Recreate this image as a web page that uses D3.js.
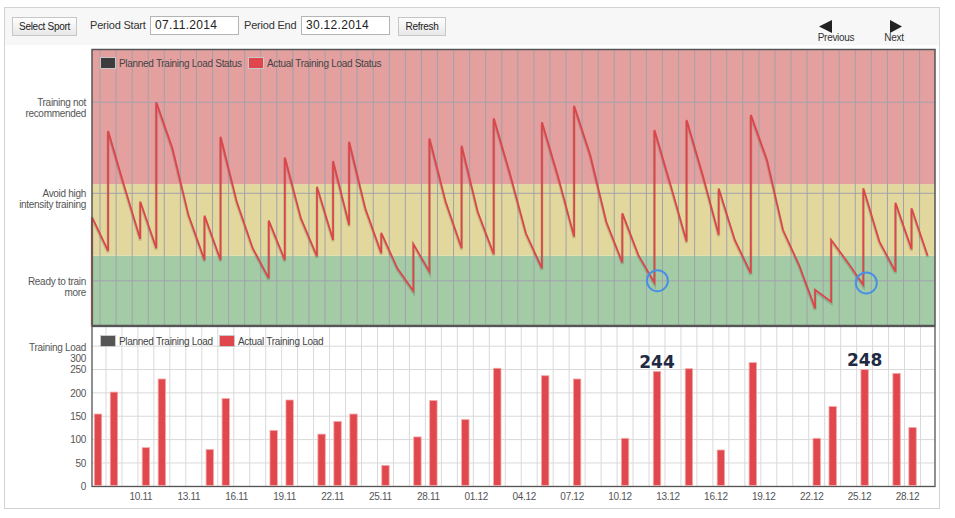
<!DOCTYPE html>
<html>
<head>
<meta charset="UTF-8">
<title>Training Load Status</title>
<script src="https://d3js.org/d3.v7.min.js"></script>
<style>
  body { margin: 0; background: #fff; font-family: "Liberation Sans", Arial, sans-serif; }
  #frame { position: absolute; left: 4px; top: 7px; width: 934px; height: 500px; border: 1px solid #d2d2d2; }
  #toolbar { position: absolute; left: 5px; top: 8px; width: 934px; height: 37px; background: #f7f7f7; }
  .btn { position: absolute; top: 17px; height: 17px; border: 1px solid #c6c6c6; background: linear-gradient(#fefefe, #e8e8e8);
         font-size: 10px; letter-spacing: -0.3px; color: #222; line-height: 17px; text-align: center; }
  .lbl { position: absolute; top: 19px; font-size: 11px; letter-spacing: -0.2px; color: #333; }
  .inp { position: absolute; top: 16px; height: 17px; width: 83px; border: 1px solid #b4b4b4; background: #fff;
         font-size: 12px; line-height: 17px; padding-left: 4px; color: #222; letter-spacing: 0.3px; }
  svg { position: absolute; left: 0; top: 0; }
  svg text { font-family: "Liberation Sans", Arial, sans-serif; font-size: 10px; letter-spacing: -0.3px; fill: #555; }
</style>
</head>
<body>
<div id="frame"></div>
<div id="toolbar"></div>
<div class="btn" style="left:12px;width:63px;">Select Sport</div>
<div class="lbl" style="left:90px;">Period Start</div>
<div class="inp" style="left:150px;">07.11.2014</div>
<div class="lbl" style="left:244px;">Period End</div>
<div class="inp" style="left:301px;">30.12.2014</div>
<div class="btn" style="left:398px;width:46px;">Refresh</div>

<script>
// days shown on both charts
const days = ["07.11","08.11","09.11","10.11","11.11","12.11","13.11","14.11","15.11","16.11","17.11","18.11",
  "19.11","20.11","21.11","22.11","23.11","24.11","25.11","26.11","27.11","28.11","29.11","30.11",
  "01.12","02.12","03.12","04.12","05.12","06.12","07.12","08.12","09.12","10.12","11.12","12.12",
  "13.12","14.12","15.12","16.12","17.12","18.12","19.12","20.12","21.12","22.12","23.12","24.12",
  "25.12","26.12","27.12","28.12","29.12"];
const tickDays = ["10.11","13.11","16.11","19.11","22.11","25.11","28.11","01.12","04.12","07.12",
  "10.12","13.12","16.12","19.12","22.12","25.12","28.12"];

// actual training load per day
const actualLoad = [153,200,0,81,228,0,0,77,186,0,0,118,183,0,110,137,153,0,43,0,104,182,0,141,
  0,251,0,0,235,0,228,0,0,101,0,244,0,250,0,76,0,263,0,0,0,101,169,0,248,0,240,124,0];

// load status before and after the day's training (0-100)
const statusBefore = [0,27.0,50.5,31.3,28.0,64.2,40.0,23.7,23.7,44.9,28.0,17.1,23.7,38.8,25.0,31.0,36.4,42.5,
  26.2,20.7,12.5,19.5,44.9,28.0,41.2,25.8,55.1,33.4,20.7,53.9,32.2,61.8,37.6,22.8,25.5,15.5,50.9,30.4,
  54.5,32.8,31.0,18.9,60.0,34.6,21.9,6.2,8.6,23.1,14.7,30.4,19.5,27.6,25.3];
const statusAfter = [39.3,70.5,50.5,44.9,80.9,64.2,40.0,39.8,68.4,44.9,28.0,38.0,60.9,38.8,50.3,59.6,66.6,42.5,
  33.6,20.7,29.5,67.8,44.9,65.1,41.2,75.1,55.1,33.4,73.6,53.9,79.6,61.8,37.6,40.7,25.5,70.8,50.9,74.5,
  54.5,49.6,31.0,76.3,60.0,34.6,21.9,12.9,31.0,23.1,49.7,30.4,44.5,42.5,25.3];

const zoneLimits = [0, 25.3, 51.2, 100];
const statusTicks = [16.2, 47.9, 80.9];
const statusLabels = [["Ready to train","more"],["Avoid high","intensity training"],["Training not","recommended"]];
const loadTicks = [0,50,100,150,200,250,300];
const highlightDays = ["12.12","25.12"];

const svg = d3.select("body").append("svg").attr("width", 955).attr("height", 518);

// toolbar navigation
const nav = svg.append("g");
nav.append("path").attr("d", "M819,26.5L832,20L832,33Z").attr("fill", "#222");
nav.append("path").attr("d", "M890,20L902,26.5L890,33Z").attr("fill", "#222");
nav.append("text").attr("x", 836).attr("y", 41).attr("text-anchor", "middle").style("fill", "#333").text("Previous");
nav.append("text").attr("x", 894).attr("y", 41).attr("text-anchor", "middle").style("fill", "#333").text("Next");

// ---------- status chart ----------
const xS = d3.scaleLinear().domain([0, 52.46]).range([92, 935]);
const yS = d3.scaleLinear().domain([0, 100]).range([325.5, 49.5]);
const zoneColors = ["#a3cca6", "#e2d79d", "#e49f9f"];

const topG = svg.append("g");
topG.selectAll("rect.zone").data(zoneColors).join("rect")
  .attr("class", "zone")
  .attr("x", 92).attr("width", 843)
  .attr("y", (d, i) => yS(zoneLimits[i + 1]))
  .attr("height", (d, i) => yS(zoneLimits[i]) - yS(zoneLimits[i + 1]))
  .attr("fill", d => d);

topG.selectAll("line.vg").data(d3.range(days.length - 1)).join("line")
  .attr("x1", i => xS(i + 0.5)).attr("x2", i => xS(i + 0.5))
  .attr("y1", 49.5).attr("y2", 325.5)
  .attr("stroke", "#a2a2aa").attr("stroke-width", 1);
topG.selectAll("line.hg").data(statusTicks).join("line")
  .attr("x1", 92).attr("x2", 935)
  .attr("y1", d => yS(d)).attr("y2", d => yS(d))
  .attr("stroke", "#a2a2aa").attr("stroke-width", 1);

const pts = days.flatMap((d, i) => [[i, statusBefore[i]], [i, statusAfter[i]]]);
const line = d3.line().x(p => xS(p[0])).y(p => yS(p[1]));
topG.append("path").datum(pts).attr("d", line)
  .attr("fill", "none").attr("stroke", "rgba(0,0,0,0.13)").attr("stroke-width", 3)
  .attr("transform", "translate(0,1.5)");
topG.append("path").datum(pts).attr("d", line)
  .attr("fill", "none").attr("stroke", "#dc464b").attr("stroke-width", 1.8);

topG.append("rect").attr("x", 92).attr("y", 49.5).attr("width", 843).attr("height", 276)
  .attr("fill", "none").attr("stroke", "#555").attr("stroke-width", 1.5);

const yAxisS = topG.append("g").attr("transform", "translate(92,0)")
  .call(d3.axisLeft(yS).tickValues(statusTicks).tickSize(0).tickPadding(6).tickFormat(""));
yAxisS.select(".domain").remove();
yAxisS.selectAll(".tick text").each(function(d, i) {
  const t = d3.select(this).attr("dy", null).attr("y", 3.5);
  statusLabels[i].forEach((s, k) => t.append("tspan").attr("x", -6).attr("dy", k ? 11 : 0).text(s));
});

const legTop = topG.append("g").attr("transform", "translate(100,57)");
[["Planned Training Load Status", "#3c3c3c", 0], ["Actual Training Load Status", "#e0464b", 148]].forEach(l => {
  legTop.append("rect").attr("x", l[2] + 0.5).attr("y", 0.5).attr("width", 15).attr("height", 11)
    .attr("fill", l[1]).attr("stroke", "#c8c8c8");
  legTop.append("text").attr("x", l[2] + 19).attr("y", 9.5).style("fill", "#444").text(l[0]);
});

topG.selectAll("circle.hl").data(highlightDays).join("circle")
  .attr("cx", d => xS(days.indexOf(d)) + 3)
  .attr("cy", d => yS(statusBefore[days.indexOf(d)]) - 2)
  .attr("r", 10.5)
  .attr("fill", "none").attr("stroke", "#4a8fe6").attr("stroke-width", 2);

// ---------- load chart ----------
const xB = d3.scaleBand().domain(days).range([90, 936.5]);
const yB = d3.scaleLinear().domain([0, 341]).range([486.3, 327]);
const bot = svg.append("g");
bot.append("clipPath").attr("id", "clipB").append("rect")
  .attr("x", 92).attr("y", 327).attr("width", 843).attr("height", 160);
const grid = bot.append("g").attr("clip-path", "url(#clipB)");
grid.selectAll("line.vg").data(days.slice(1)).join("line")
  .attr("x1", d => xB(d)).attr("x2", d => xB(d))
  .attr("y1", 327).attr("y2", 486.3)
  .attr("stroke", "#d9d9d9");
grid.selectAll("line.hg").data(loadTicks).join("line")
  .attr("x1", 92).attr("x2", 935)
  .attr("y1", d => yB(d)).attr("y2", d => yB(d))
  .attr("stroke", "#d9d9d9");

bot.append("rect").attr("x", 92).attr("y", 326.5).attr("width", 843).attr("height", 160)
  .attr("fill", "none").attr("stroke", "#555").attr("stroke-width", 1.3);

const bw = 7.4;
bot.selectAll("rect.bar").data(actualLoad).join("rect")
  .attr("x", (v, i) => xB(days[i]) + xB.bandwidth() / 2 - bw / 2)
  .attr("y", v => yB(v) - 0.8)
  .attr("width", bw)
  .attr("height", v => yB(0) - yB(v))
  .attr("fill", "#e0484d").attr("stroke", "#f2a9a9").attr("stroke-width", 0.8);

const yAxisB = bot.append("g").attr("transform", "translate(92,0)")
  .call(d3.axisLeft(yB).tickValues(loadTicks).tickSize(0).tickPadding(6));
yAxisB.select(".domain").remove();
yAxisB.selectAll(".tick text").attr("transform", d => d === 300 ? "translate(0,12.5)" : null);
bot.append("text").attr("x", 86).attr("y", 351).attr("text-anchor", "end").text("Training Load");

const xAxisB = bot.append("g").attr("transform", "translate(0,486.3)")
  .call(d3.axisBottom(xB).tickValues(tickDays).tickSize(0).tickPadding(7));
xAxisB.select(".domain").remove();
xAxisB.selectAll(".tick text").attr("x", -5);

const legBot = bot.append("g").attr("transform", "translate(100,335)");
[["Planned Training Load", "#555", 0], ["Actual Training Load", "#e0464b", 119]].forEach(l => {
  legBot.append("rect").attr("x", l[2] + 0.5).attr("y", 0.5).attr("width", 15).attr("height", 11)
    .attr("fill", l[1]).attr("stroke", "#c8c8c8");
  legBot.append("text").attr("x", l[2] + 19).attr("y", 9.5).style("fill", "#444").text(l[0]);
});

bot.selectAll("text.ann").data(highlightDays).join("text")
  .attr("x", d => xB(d) + xB.bandwidth() / 2)
  .attr("y", d => yB(actualLoad[days.indexOf(d)]) - 4)
  .attr("text-anchor", "middle")
  .style("font-family", "'DejaVu Sans', sans-serif").style("font-weight", "bold")
  .style("font-size", "17px").style("letter-spacing", "0").style("fill", "#1f2b45")
  .text(d => actualLoad[days.indexOf(d)]);
</script>
</body>
</html>
